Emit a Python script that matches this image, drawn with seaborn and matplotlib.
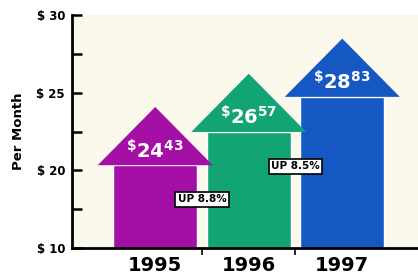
import numpy as np
import pandas as pd
import seaborn as sns
import matplotlib.pyplot as plt

anos = ['1995', '1996', '1997']
precos = [24.43, 26.57, 28.83]
aumentos = ['UP 8.8%', 'UP 8.5%']
cores = ['#a40fa6', '#12a474', '#1558c4']

ytick_pos = [15, 17.5, 20, 22.5, 25, 27.5, 30]
ytick_labels = ['$ 10', '', '$ 20', '', '$ 25', '', '$ 30']

sns.set_style('white')
plt.rcParams['font.family'] = ['DejaVu Sans']
plt.rcParams['mathtext.fontset'] = 'dejavusans'
plt.rcParams['mathtext.default'] = 'bf'
plt.rcParams['text.color'] = 'black'
plt.rcParams['axes.labelcolor'] = 'black'
plt.rcParams['xtick.color'] = 'black'
plt.rcParams['ytick.color'] = 'black'

# seta: haste (barra) + cabeca (triangulo)
altura_cabeca = 3.75
largura_cabeca = 1.23
largura_haste = 0.9
ponta = [p - 0.35 for p in precos]
base_cabeca = [t - altura_cabeca for t in ponta]

dados = pd.DataFrame({'ano': anos, 'base': base_cabeca})

fig = plt.figure(figsize=(4.18, 2.77), dpi=100)
ax = fig.add_axes([72 / 418, 29 / 277, 346 / 418, 233 / 277])
ax.set_facecolor('#fbf8ec')

sns.barplot(data=dados, x='ano', y='base', hue='ano', palette=cores,
            width=largura_haste, legend=False, ax=ax, saturation=1)

for i, (t, b, c) in enumerate(zip(ponta, base_cabeca, cores)):
    xs = [i - largura_cabeca / 2, i, i + largura_cabeca / 2]
    ys = [b, t, b]
    ax.fill(xs, ys, color=c, zorder=3, linewidth=0)
    reais, centavos = f'{precos[i]:.2f}'.split('.')
    ax.text(i, t - 2.8, r'${}^{\$}' + reais + '^{' + centavos + '}$',
            color='white', fontsize=14, ha='center', va='center', zorder=5)

for i, txt in enumerate(aumentos):
    ax.text(i + 0.5, precos[i] - 6.3, txt, fontsize=7.5, fontweight='bold',
            color='black', ha='center', va='center', zorder=6,
            bbox=dict(boxstyle='square,pad=0.25', fc='white', ec='black', lw=1.2))

ax.set_xlim(-0.89, 2.81)
ax.set_ylim(15, 30)

ax.set_xticks(range(len(anos)))
ax.set_xticklabels(anos, fontsize=14, fontweight='bold')
ax.set_xticks([0.5, 1.5], minor=True)
ax.tick_params(axis='x', which='major', length=0, pad=6)
ax.tick_params(axis='x', which='minor', direction='out', length=5, width=1.2, color='black', bottom=True)

ax.set_yticks(ytick_pos)
ax.set_yticklabels(ytick_labels, fontsize=8.5, fontweight='bold')
ax.tick_params(axis='y', direction='in', length=7, width=1.8, color='black', left=True, pad=5)

ax.set_xlabel('')
ax.set_ylabel('Per Month', fontsize=9.5, fontweight='bold', labelpad=8)

for lado in ['top', 'right']:
    ax.spines[lado].set_visible(False)
for lado in ['left', 'bottom']:
    ax.spines[lado].set_color('black')
    ax.spines[lado].set_linewidth(2)

fig.savefig('out.png', dpi=100, facecolor='white')
